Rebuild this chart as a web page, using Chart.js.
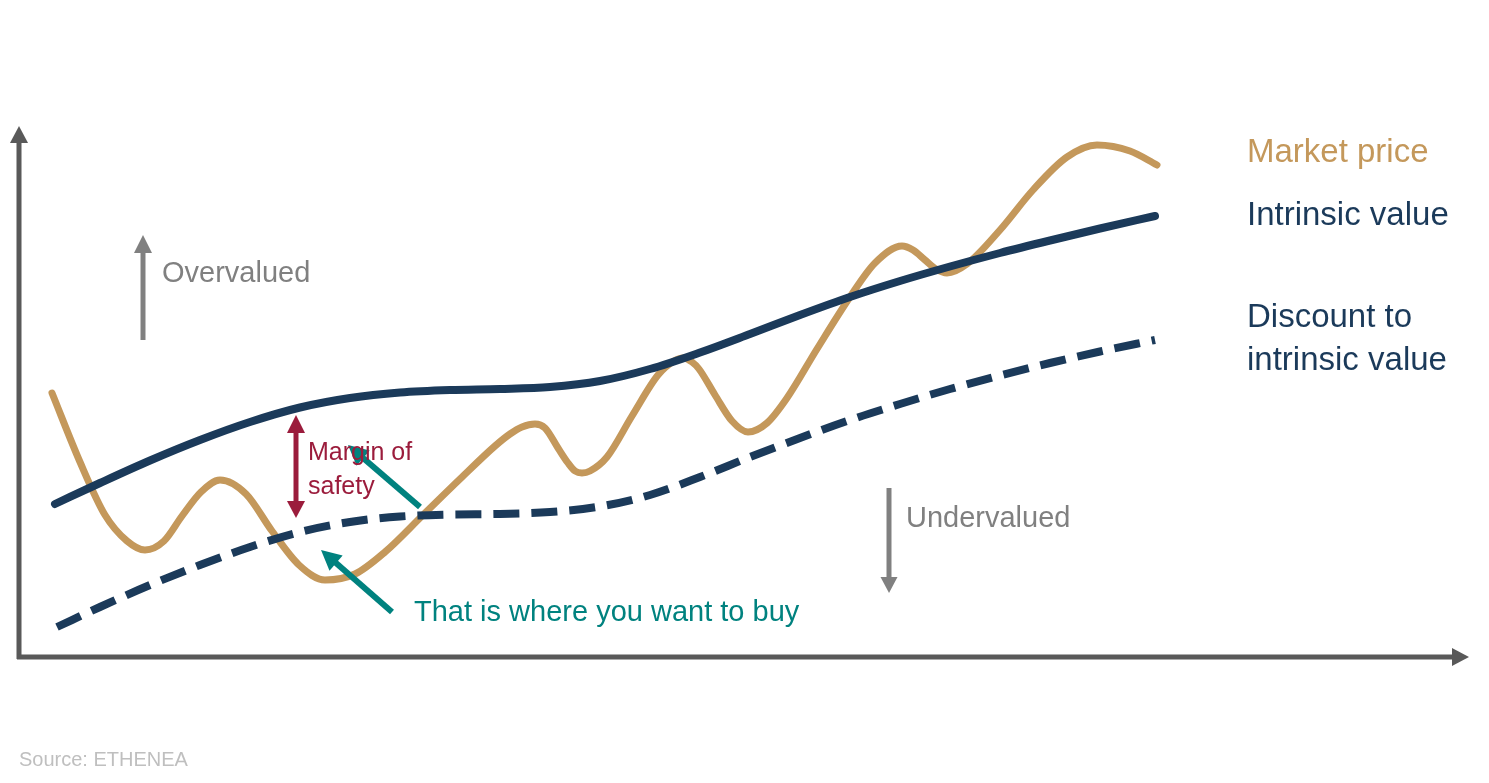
<!DOCTYPE html>
<html>
<head>
<meta charset="utf-8">
<script src="https://cdn.jsdelivr.net/npm/chart.js@4"></script>
<style>
  body { margin: 0; background: #ffffff; }
  canvas { display: block; }
</style>
</head>
<body>
<canvas id="chart" width="1489" height="783"></canvas>
<script>
// Market price (wavy line)
const marketX = [3.3, 6.1, 8.6, 10.8, 12.6, 14.5, 16.3, 18.2, 20.1, 22.7, 25.3, 28, 30.6, 33.6, 36.6, 40.4, 44.1, 47.6, 49.1, 50.3, 51.6, 52.6, 53.9, 54.9, 55.6, 56.3, 57.1, 58.8, 61.3, 63.9, 65.5, 66.4, 67.3, 68, 69.6, 71.3, 72.9, 74.8, 76.8, 79.8, 83.1, 85.6, 88.3, 89.4, 90.6, 91.7, 92.8, 94.8, 98.1, 101.4, 104.8, 107.8, 111.1, 113.8];
const marketY = [52.8, 39, 28.4, 23.2, 21.4, 23.2, 28.2, 33, 35.4, 32.6, 25.2, 18.4, 15.4, 16.6, 21, 28.4, 35.6, 42.2, 44.6, 46, 46.6, 45.8, 41.8, 38.8, 37.2, 36.8, 37.2, 40, 48.2, 56.4, 59.2, 59.8, 59, 57.6, 52.4, 47.2, 45, 46.8, 51.8, 61.6, 72, 78.8, 82.2, 81.4, 79.4, 77.6, 76.8, 78.6, 85.4, 93.4, 100, 102.4, 101.2, 98.4];

// Intrinsic value
const intrinsicX = [3.6, 8.1, 13.1, 18.1, 23.1, 28.1, 33.1, 38.1, 43.1, 48.1, 53.1, 58.1, 63.1, 68.1, 73.1, 78.1, 83.1, 88.1, 93.1, 98.1, 103.1, 108.1, 113.6];
const intrinsicY = [30.6, 34.8, 39.3, 43.4, 47, 49.9, 51.8, 52.9, 53.4, 53.6, 54, 55.2, 57.6, 60.9, 64.6, 68.4, 72, 75.2, 78.1, 80.8, 83.3, 85.7, 88.2];

// Discount to intrinsic value (dashed)
const discountX = [3.8, 8.1, 13.1, 18.1, 23.1, 28.1, 33.1, 38.1, 43.1, 48.1, 53.1, 58.1, 63.1, 68.1, 73.1, 78.1, 83.1, 88.1, 93.1, 98.1, 103.1, 108.1, 113.6];
const discountY = [6, 10, 14.4, 18.4, 22, 25, 27, 28.1, 28.5, 28.6, 29, 30.1, 32.4, 36, 40, 43.8, 47.4, 50.6, 53.6, 56.3, 58.8, 61.1, 63.4];

const seriesNames = ["Market price", "Intrinsic value", "Discount to intrinsic value"];

const TAN = "#C4985B";
const NAVY = "#1B3A5A";
const TEAL = "#00827F";
const CRIMSON = "#9B1C3C";
const GREY = "#808080";
const FONT = "'Liberation Sans', Arial, sans-serif";

function pts(xs, ys) {
  return xs.map((x, i) => ({ x: x, y: ys[i] }));
}

function head(ctx, x2, y2, ang, color, headLen, headW) {
  const bx = x2 - headLen * Math.cos(ang);
  const by = y2 - headLen * Math.sin(ang);
  ctx.save();
  ctx.fillStyle = color;
  ctx.beginPath();
  ctx.moveTo(x2, y2);
  ctx.lineTo(bx + (headW / 2) * Math.sin(ang), by - (headW / 2) * Math.cos(ang));
  ctx.lineTo(bx - (headW / 2) * Math.sin(ang), by + (headW / 2) * Math.cos(ang));
  ctx.closePath();
  ctx.fill();
  ctx.restore();
}

function arrow(ctx, x1, y1, x2, y2, color, width, headLen, headW) {
  const ang = Math.atan2(y2 - y1, x2 - x1);
  ctx.save();
  ctx.strokeStyle = color;
  ctx.lineWidth = width;
  ctx.lineCap = "butt";
  ctx.beginPath();
  ctx.moveTo(x1, y1);
  ctx.lineTo(x2 - (headLen - 2) * Math.cos(ang), y2 - (headLen - 2) * Math.sin(ang));
  ctx.stroke();
  ctx.restore();
  head(ctx, x2, y2, ang, color, headLen, headW);
}

const decorations = {
  id: "decorations",
  afterDatasetsDraw(chart) {
    const ctx = chart.ctx;
    const xs = chart.scales.x;
    const ys = chart.scales.y;
    const X = v => xs.getPixelForValue(v);
    const Y = v => ys.getPixelForValue(v);
    const a = chart.chartArea;

    // axes with arrow heads
    arrow(ctx, a.left, a.bottom + 2, a.left, a.top - 1, "#595959", 5, 17, 18);
    arrow(ctx, a.left - 2, a.bottom, a.right + 1, a.bottom, "#595959", 5, 17, 18);

    // overvalued / undervalued
    arrow(ctx, X(12.4), Y(63.4), X(12.4), Y(84.4), GREY, 5, 18, 18);
    arrow(ctx, X(87), Y(33.8), X(87), Y(12.8), GREY, 5, 16, 17);

    // margin of safety (double arrow)
    const mx = X(27.7);
    const top = Y(48.4), bot = Y(27.8);
    ctx.save();
    ctx.strokeStyle = CRIMSON;
    ctx.lineWidth = 5;
    ctx.beginPath();
    ctx.moveTo(mx, top + 16);
    ctx.lineTo(mx, bot - 16);
    ctx.stroke();
    ctx.restore();
    head(ctx, mx, top, -Math.PI / 2, CRIMSON, 18, 18);
    head(ctx, mx, bot, Math.PI / 2, CRIMSON, 17, 18);

    // teal pointers
    arrow(ctx, X(40.1), Y(30), X(32.9), Y(42.4), TEAL, 6, 20, 20);
    arrow(ctx, X(37.3), Y(9), X(30.2), Y(21.4), TEAL, 6, 20, 20);

    ctx.save();
    ctx.textBaseline = "alphabetic";
    ctx.textAlign = "left";

    ctx.font = "29px " + FONT;
    ctx.fillStyle = GREY;
    ctx.fillText("Overvalued", X(14.3), Y(75));
    ctx.fillText("Undervalued", X(88.7), Y(26));

    ctx.font = "25px " + FONT;
    ctx.fillStyle = CRIMSON;
    ctx.fillText("Margin of", X(28.9), Y(39.4));
    ctx.fillText("safety", X(28.9), Y(32.6));

    ctx.font = "29px " + FONT;
    ctx.fillStyle = TEAL;
    ctx.fillText("That is where you want to buy", X(39.5), Y(7.2));

    // series labels on the right
    ctx.font = "33px " + FONT;
    ctx.fillStyle = TAN;
    ctx.fillText(seriesNames[0], X(122.8), Y(99));
    ctx.fillStyle = NAVY;
    ctx.fillText(seriesNames[1], X(122.8), Y(86.4));
    ctx.fillText("Discount to", X(122.8), Y(66));
    ctx.fillText("intrinsic value", X(122.8), Y(57.4));

    ctx.font = "20px " + FONT;
    ctx.fillStyle = "#BFBFBF";
    ctx.fillText("Source: ETHENEA", a.left, a.bottom + 109);
    ctx.restore();
  }
};

new Chart(document.getElementById("chart"), {
  type: "line",
  data: {
    datasets: [
      {
        label: seriesNames[2],
        data: pts(discountX, discountY),
        borderColor: NAVY,
        borderWidth: 8,
        borderDash: [26, 12],
        borderCapStyle: "butt",
        cubicInterpolationMode: "monotone",
        pointRadius: 0
      },
      {
        label: seriesNames[1],
        data: pts(intrinsicX, intrinsicY),
        borderColor: NAVY,
        borderWidth: 8,
        borderCapStyle: "round",
        cubicInterpolationMode: "monotone",
        pointRadius: 0
      },
      {
        label: seriesNames[0],
        data: pts(marketX, marketY),
        borderColor: TAN,
        borderWidth: 7,
        borderCapStyle: "round",
        borderJoinStyle: "round",
        cubicInterpolationMode: "monotone",
        pointRadius: 0
      }
    ]
  },
  options: {
    responsive: false,
    devicePixelRatio: 1,
    animation: false,
    clip: false,
    layout: { padding: { left: 19, right: 21, top: 127, bottom: 126 } },
    plugins: {
      legend: { display: false },
      tooltip: { enabled: false }
    },
    scales: {
      x: { type: "linear", min: 0, max: 144.9, display: false },
      y: { min: 0, max: 106, display: false }
    }
  },
  plugins: [decorations]
});
</script>
</body>
</html>
